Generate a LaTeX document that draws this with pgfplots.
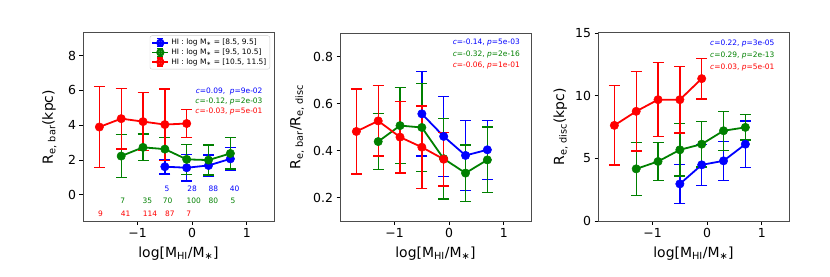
\documentclass[border=0pt]{standalone}
\usepackage{fontspec}
\setmainfont{DejaVu Sans}
\usepackage{pgfplots}
\pgfplotsset{compat=1.18}
\definecolor{mblue}{RGB}{0,0,255}
\definecolor{mgreen}{RGB}{0,128,0}
\definecolor{mred}{RGB}{255,0,0}
\newcommand{\tfs}{\fontsize{12.5}{14}\selectfont}
\newcommand{\lfs}{\fontsize{14}{16}\selectfont}
\newcommand{\sfs}{\fontsize{7.5}{9}\selectfont}
\pgfplotsset{
  panel/.style={
    scale only axis, width=191bp, height=188bp,
    xmin=-2, xmax=1.5,
    xtick={-1,0,1}, xticklabels={−1,0,1},
    tick align=outside, tick pos=left, major tick length=3.5bp,
    major tick style={black, line width=0.8bp},
    axis line style={draw=black!70, line width=1bp},
    tick label style={font=\tfs},
    label style={font=\lfs},
    xlabel={log[M\textsubscript{HI}/M\textsubscript{∗}]},
    xlabel style={at={(axis description cs:0.5,0)}, anchor=north, yshift=-22bp},
    clip=false,
  },
  ser/.style={color=#1, line width=1.8bp, mark=*, mark size=4.2bp,
    mark options={solid, fill=#1, draw=#1, line width=0.5bp},
    error bars/y dir=both, error bars/y explicit,
    error bars/error bar style={line width=1.3bp, #1},
    error bars/error mark=-, error bars/error mark options={rotate=90, line width=1.3bp, mark size=5.5bp, #1}},
  legimg/.style={legend image code/.code={
    \draw[line width=1.8bp] (0bp,0bp) -- (16bp,0bp);
    \draw[line width=1.3bp] (8bp,-4bp) -- (8bp,4bp);
    \draw[line width=1.3bp] (5bp,4bp)--(11bp,4bp) (5bp,-4bp)--(11bp,-4bp);
    \fill (8bp,0bp) circle (3.2bp);
  }},
}
\begin{document}
\begin{tikzpicture}
\useasboundingbox (0,0) rectangle (830bp,277bp);
% ---------------- Panel 1
\begin{axis}[panel, at={(83bp,56bp)}, anchor=south west,
  ymin=-1.5, ymax=9.3, ytick={0,2,4,6,8}, yticklabels={0,2,4,6,8},
  ylabel={R\textsubscript{e, bar}(kpc)},
  ylabel style={at={(axis description cs:-0.12,0.5)}, anchor=south},
  legend style={at={(1,1)}, anchor=north east, xshift=-4bp, yshift=-2.5bp,
    font=\sfs, draw=black!20, rounded corners=2bp, fill=white, fill opacity=0.8, text opacity=1,
    inner sep=1.5bp, row sep=-1.5bp},
  legend cell align=left,
]
\addplot+[legimg, ser=mblue] table[x=x, y=y, y error=e] {
x y e
-0.5 1.62 0.42
-0.1 1.56 0.76
0.3 1.69 0.60
0.7 2.07 0.66
};
\addlegendentry{HI : log M\textsubscript{∗} = [8.5, 9.5]}
\addplot+[legimg, ser=mgreen] table[x=x, y=y, y error=e] {
x y e
-1.3 2.23 1.24
-0.9 2.73 0.77
-0.5 2.63 0.65
-0.1 2.04 0.85
0.3 2.00 0.86
0.7 2.38 0.90
};
\addlegendentry{HI : log M\textsubscript{∗} = [9.5, 10.5]}
\addplot+[legimg, ser=mred] table[x=x, y=y, y error=e] {
x y e
-1.7 3.90 2.33
-1.3 4.38 1.74
-0.9 4.21 1.68
-0.5 4.04 2.05
-0.1 4.10 0.79
};
\addlegendentry{HI : log M\textsubscript{∗} = [10.5, 11.5]}
\begin{scope}[every node/.style={font=\sfs}]
\node[text=mblue] at (axis cs:-0.46,0.34) {5};
\node[text=mblue] at (axis cs:0.0,0.34) {28};
\node[text=mblue] at (axis cs:0.39,0.34) {88};
\node[text=mblue] at (axis cs:0.78,0.34) {40};
\node[text=mgreen] at (axis cs:-1.27,-0.34) {7};
\node[text=mgreen] at (axis cs:-0.82,-0.34) {35};
\node[text=mgreen] at (axis cs:-0.45,-0.34) {70};
\node[text=mgreen] at (axis cs:0.03,-0.34) {100};
\node[text=mgreen] at (axis cs:0.39,-0.34) {80};
\node[text=mgreen] at (axis cs:0.75,-0.34) {5};
\node[text=mred] at (axis cs:-1.68,-1.09) {9};
\node[text=mred] at (axis cs:-1.22,-1.09) {41};
\node[text=mred] at (axis cs:-0.77,-1.09) {114};
\node[text=mred] at (axis cs:-0.41,-1.09) {87};
\node[text=mred] at (axis cs:-0.06,-1.09) {7};
\node[anchor=east, text=mblue, xshift=-8bp, yshift=-58.3bp] at (rel axis cs:1,1) {\textit{c}=0.09,\ \ \textit{p}=9e-02};
\node[anchor=east, text=mgreen, xshift=-8bp, yshift=-68.3bp] at (rel axis cs:1,1) {\textit{c}=-0.12, \textit{p}=2e-03};
\node[anchor=east, text=mred, xshift=-8bp, yshift=-78.3bp] at (rel axis cs:1,1) {\textit{c}=-0.03, \textit{p}=5e-01};
\end{scope}
\end{axis}
% ---------------- Panel 2
\begin{axis}[panel, at={(340bp,56bp)}, anchor=south west,
  ymin=0.1, ymax=0.9, ytick={0.2,0.4,0.6,0.8}, yticklabels={0.2,0.4,0.6,0.8},
  ylabel={R\textsubscript{e, bar}/R\textsubscript{e, disc}},
  ylabel style={at={(axis description cs:-0.17,0.5)}, anchor=south},
]
\addplot+[ser=mblue] table[x=x, y=y, y error=e] {
x y e
-0.5 0.556 0.180
-0.1 0.460 0.170
0.3 0.379 0.150
0.7 0.403 0.125
};
\addplot+[ser=mgreen] table[x=x, y=y, y error=e] {
x y e
-1.3 0.438 0.120
-0.9 0.506 0.162
-0.5 0.498 0.186
-0.1 0.365 0.172
0.3 0.304 0.120
0.7 0.360 0.140
};
\addplot+[ser=mred] table[x=x, y=y, y error=e] {
x y e
-1.7 0.481 0.181
-1.3 0.526 0.150
-0.9 0.457 0.153
-0.5 0.414 0.175
-0.1 0.363 0.114
};
\begin{scope}[every node/.style={font=\sfs}]
\node[anchor=east, text=mblue, xshift=-7.7bp, yshift=-9bp] at (rel axis cs:1,1) {\textit{c}=-0.14, \textit{p}=5e-03};
\node[anchor=east, text=mgreen, xshift=-7.7bp, yshift=-21bp] at (rel axis cs:1,1) {\textit{c}=-0.32, \textit{p}=2e-16};
\node[anchor=east, text=mred, xshift=-7.7bp, yshift=-32.5bp] at (rel axis cs:1,1) {\textit{c}=-0.06, \textit{p}=1e-01};
\end{scope}
\end{axis}
% ---------------- Panel 3
\begin{axis}[panel, at={(598bp,56bp)}, anchor=south west,
  ymin=0, ymax=15, ytick={0,5,10,15}, yticklabels={0,5,10,15},
  ylabel={R\textsubscript{e, disc}(kpc)},
  ylabel style={at={(axis description cs:-0.14,0.5)}, anchor=south},
]
\addplot+[ser=mblue] table[x=x, y=y, y error=e] {
x y e
-0.5 2.96 1.56
-0.1 4.48 1.63
0.3 4.80 1.55
0.7 6.13 1.85
};
\addplot+[ser=mgreen] table[x=x, y=y, y error=e] {
x y e
-1.3 4.16 2.10
-0.9 4.75 1.52
-0.5 5.68 2.08
-0.1 6.13 1.82
0.3 7.20 1.56
0.7 7.47 1.00
};
\addplot+[ser=mred] table[x=x, y=y, y error=e] {
x y e
-1.7 7.63 3.16
-1.3 8.75 3.16
-0.9 9.68 2.96
-0.5 9.68 2.65
-0.1 11.36 1.63
};
\begin{scope}[every node/.style={font=\sfs}]
\node[anchor=east, text=mblue, xshift=-11bp, yshift=-10.3bp] at (rel axis cs:1,1) {\textit{c}=0.22, \textit{p}=3e-05};
\node[anchor=east, text=mgreen, xshift=-11bp, yshift=-22.3bp] at (rel axis cs:1,1) {\textit{c}=0.29, \textit{p}=2e-13};
\node[anchor=east, text=mred, xshift=-11bp, yshift=-34.3bp] at (rel axis cs:1,1) {\textit{c}=0.03, \textit{p}=5e-01};
\end{scope}
\end{axis}
\end{tikzpicture}
\end{document}
